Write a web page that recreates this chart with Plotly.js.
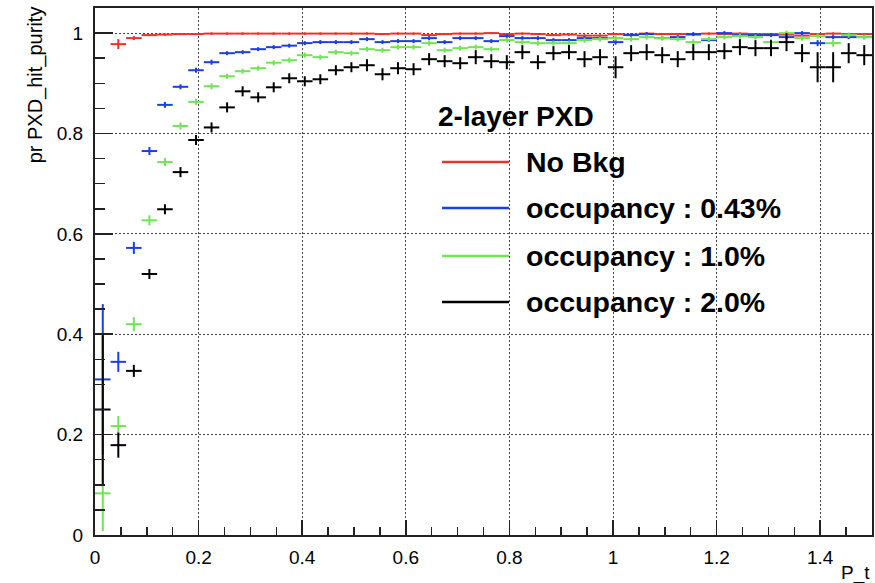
<!DOCTYPE html>
<html>
<head>
<meta charset="utf-8">
<script src="https://cdn.plot.ly/plotly-3.0.1.min.js"></script>
<style>html,body{margin:0;padding:0;background:#fff;}#chart{width:875px;height:583px;}</style>
</head>
<body>
<div id="chart"></div>
<script>
// Bin centres of P_t (bin width 0.03)
var binCenters = [0.015,0.045,0.075,0.105,0.135,0.165,0.195,0.225,0.255,0.285,
  0.315,0.345,0.375,0.405,0.435,0.465,0.495,0.525,0.555,0.585,
  0.615,0.645,0.675,0.705,0.735,0.765,0.795,0.825,0.855,0.885,
  0.915,0.945,0.975,1.005,1.035,1.065,1.095,1.125,1.155,1.185,
  1.215,1.245,1.275,1.305,1.335,1.365,1.395,1.425,1.455,1.485];
var binHalfWidth = 0.015;

var seriesNames = ["No Bkg", "occupancy : 0.43%", "occupancy : 1.0%", "occupancy : 2.0%"];
var seriesColors = ["#ea3326", "#1c3fe0", "#6ee652", "#000000"];

var noBkg = [null,0.978,0.990,0.996,0.997,0.998,0.998,0.999,0.999,0.999,
  0.999,0.999,0.999,0.999,0.999,0.999,0.999,0.999,0.998,0.999,
  0.999,0.996,0.998,0.999,0.999,1.000,0.998,0.999,0.998,0.996,
  0.997,0.995,0.995,0.998,0.997,0.999,0.998,0.998,0.997,0.999,
  0.998,0.999,0.998,0.998,0.997,0.995,0.998,0.999,0.998,0.998];
var noBkgErr = [0,0.010,0.004,0.002,0.002,0.002,0.002,0.002,0.002,0.002,
  0.002,0.002,0.002,0.002,0.002,0.002,0.002,0.002,0.002,0.002,
  0.002,0.002,0.002,0.002,0.002,0.002,0.002,0.002,0.002,0.002,
  0.002,0.002,0.002,0.002,0.002,0.002,0.002,0.002,0.002,0.002,
  0.002,0.002,0.002,0.002,0.002,0.002,0.002,0.002,0.002,0.002];

var occ043 = [0.310,0.345,0.572,0.765,0.857,0.893,0.926,0.942,0.960,0.962,
  0.968,0.972,0.975,0.980,0.982,0.982,0.982,0.988,0.982,0.984,
  0.984,0.990,0.982,0.990,0.990,0.984,0.994,0.990,0.990,0.986,
  0.986,0.990,0.990,0.982,0.996,0.998,0.990,0.992,0.998,0.986,
  1.000,0.996,0.996,0.996,0.992,1.000,0.980,0.992,0.992,0.992];
var occ043Err = [0.150,0.020,0.012,0.008,0.006,0.005,0.005,0.005,0.004,0.004,
  0.004,0.004,0.004,0.004,0.004,0.004,0.004,0.004,0.004,0.004,
  0.004,0.004,0.004,0.004,0.004,0.004,0.004,0.004,0.004,0.004,
  0.004,0.004,0.004,0.005,0.004,0.004,0.004,0.004,0.004,0.004,
  0.004,0.004,0.004,0.004,0.004,0.004,0.006,0.004,0.004,0.004];

var occ10 = [0.083,0.217,0.420,0.627,0.743,0.815,0.863,0.894,0.914,0.924,
  0.930,0.941,0.946,0.956,0.952,0.962,0.960,0.968,0.966,0.972,
  0.972,0.980,0.966,0.970,0.972,0.968,0.986,0.982,0.980,0.980,
  0.980,0.986,0.988,0.990,0.988,0.992,0.990,0.988,0.982,0.988,
  0.992,0.994,0.992,0.982,1.000,0.990,0.994,0.980,0.996,0.992];
var occ10Err = [0.075,0.020,0.014,0.010,0.008,0.007,0.006,0.006,0.005,0.005,
  0.005,0.005,0.005,0.005,0.005,0.005,0.005,0.005,0.005,0.005,
  0.005,0.005,0.005,0.005,0.005,0.005,0.005,0.005,0.005,0.005,
  0.005,0.005,0.005,0.005,0.005,0.005,0.005,0.005,0.006,0.005,
  0.005,0.005,0.005,0.006,0.005,0.005,0.005,0.007,0.005,0.005];

var occ20 = [0.250,0.179,0.327,0.520,0.649,0.723,0.787,0.812,0.852,0.884,
  0.872,0.892,0.910,0.904,0.908,0.926,0.932,0.936,0.918,0.930,
  0.928,0.948,0.944,0.940,0.952,0.944,0.942,0.962,0.942,0.960,
  0.962,0.948,0.952,0.932,0.960,0.962,0.956,0.948,0.962,0.962,
  0.964,0.972,0.970,0.970,0.982,0.960,0.932,0.932,0.960,0.956];
var occ20Err = [0.150,0.025,0.012,0.010,0.010,0.010,0.010,0.010,0.010,0.010,
  0.010,0.010,0.010,0.010,0.010,0.010,0.010,0.012,0.012,0.012,
  0.012,0.012,0.012,0.012,0.014,0.014,0.014,0.014,0.014,0.014,
  0.014,0.016,0.016,0.022,0.016,0.016,0.016,0.016,0.016,0.016,
  0.016,0.016,0.016,0.016,0.018,0.018,0.030,0.030,0.020,0.020];

var xTickVals = [0, 0.2, 0.4, 0.6, 0.8, 1.0, 1.2, 1.4];
var xTickText = ["0", "0.2", "0.4", "0.6", "0.8", "1", "1.2", "1.4"];
var yTickVals = [0, 0.2, 0.4, 0.6, 0.8, 1.0];
var yTickText = ["0", "0.2", "0.4", "0.6", "0.8", "1"];

var FONT = "Liberation Sans, Arial, Helvetica, sans-serif";

var allY = [noBkg, occ043, occ10, occ20];
var allErr = [noBkgErr, occ043Err, occ10Err, occ20Err];

var traces = allY.map(function (ys, i) {
  return {
    type: "scatter",
    mode: "markers",
    name: seriesNames[i],
    x: binCenters,
    y: ys,
    marker: {size: 2, color: seriesColors[i]},
    error_x: {type: "constant", value: binHalfWidth, width: 0, thickness: 2, color: seriesColors[i]},
    error_y: {type: "data", array: allErr[i], visible: true, width: 0, thickness: 2, color: seriesColors[i]},
    showlegend: false,
    hoverinfo: "skip"
  };
});

// ROOT-style legend box (white fill covering gridlines) built from shapes + annotations
var legX0 = 0.4466, legX1 = 0.5328;
var legRows = [0.7078, 0.6205, 0.5294, 0.4421];
var shapes = [{
  type: "rect", xref: "paper", yref: "paper",
  x0: 0.427, x1: 0.929, y0: 0.393, y1: 0.841,
  fillcolor: "#ffffff", line: {width: 0}, layer: "between"
}];
var annotations = [{
  xref: "paper", yref: "paper", x: 0.439, y: 0.7932,
  xanchor: "left", yanchor: "middle", showarrow: false,
  text: "<b>2-layer PXD</b>", font: {family: FONT, size: 28, color: "#000"}
}];
legRows.forEach(function (yy, i) {
  shapes.push({
    type: "line", xref: "paper", yref: "paper",
    x0: legX0, x1: legX1, y0: yy, y1: yy,
    line: {color: seriesColors[i], width: 2.5}, layer: "above"
  });
  annotations.push({
    xref: "paper", yref: "paper", x: 0.5525, y: yy,
    xanchor: "left", yanchor: "middle", showarrow: false,
    text: "<b>" + seriesNames[i] + "</b>", font: {family: FONT, size: 28.5, color: "#000"}
  });
});
annotations.push({
  xref: "paper", yref: "paper", x: -0.0772, y: 1.006,
  xanchor: "center", yanchor: "top", textangle: -90, showarrow: false,
  text: "pr PXD_hit_purity", font: {family: FONT, size: 20, color: "#000"}
});
annotations.push({
  xref: "paper", yref: "paper", x: 1.0, y: -0.072,
  xanchor: "right", yanchor: "middle", showarrow: false,
  text: "P_t", font: {family: FONT, size: 19, color: "#000"}
});

var layout = {
  width: 875, height: 583,
  margin: {l: 95, r: 3, t: 8, b: 48},
  paper_bgcolor: "#ffffff", plot_bgcolor: "#ffffff",
  showlegend: false,
  font: {family: FONT, size: 19, color: "#000"},
  xaxis: {
    range: [0, 1.5], tickmode: "array", tickvals: xTickVals, ticktext: xTickText,
    ticks: "inside", ticklen: 15, tickwidth: 1.5, tickcolor: "#222",
    ticklabelstandoff: 4,
    showline: true, mirror: true, linecolor: "#222", linewidth: 2,
    showgrid: true, gridcolor: "#444", gridwidth: 1, griddash: "2px,2px",
    zeroline: false,
    minor: {dtick: 0.05, tick0: 0, ticks: "inside", ticklen: 8, tickwidth: 1.5, tickcolor: "#222", showgrid: false},
    tickfont: {family: FONT, size: 19, color: "#000"}
  },
  yaxis: {
    range: [0, 1.05], tickmode: "array", tickvals: yTickVals, ticktext: yTickText,
    ticks: "inside", ticklen: 18, tickwidth: 1.5, tickcolor: "#222",
    ticklabelstandoff: 6,
    showline: true, mirror: true, linecolor: "#222", linewidth: 2,
    showgrid: true, gridcolor: "#444", gridwidth: 1, griddash: "2px,2px",
    zeroline: false,
    minor: {dtick: 0.05, tick0: 0, ticks: "inside", ticklen: 10, tickwidth: 1.5, tickcolor: "#222", showgrid: false},
    tickfont: {family: FONT, size: 19, color: "#000"}
  },
  shapes: shapes,
  annotations: annotations
};

Plotly.newPlot("chart", traces, layout, {displayModeBar: false, staticPlot: true});
</script>
</body>
</html>
